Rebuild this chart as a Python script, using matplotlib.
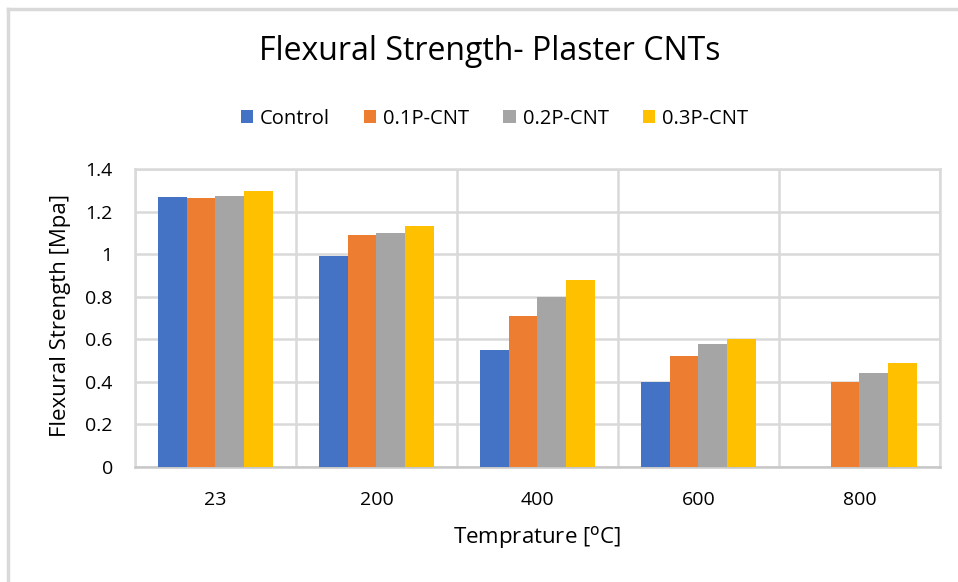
import numpy as np
import matplotlib.pyplot as plt
from matplotlib.lines import Line2D

plt.rcParams['font.family'] = ['Open Sans', 'DejaVu Sans']

temps = ['23', '200', '400', '600', '800']
control = [1.27, 0.99, 0.55, 0.40, 0.0]
p01_cnt = [1.265, 1.09, 0.71, 0.52, 0.40]
p02_cnt = [1.275, 1.10, 0.80, 0.58, 0.44]
p03_cnt = [1.295, 1.13, 0.88, 0.60, 0.49]

series = [
    ('Control', control, '#4472C4'),
    ('0.1P-CNT', p01_cnt, '#ED7D31'),
    ('0.2P-CNT', p02_cnt, '#A5A5A5'),
    ('0.3P-CNT', p03_cnt, '#FFC000'),
]

grid_col = '#d9d9d9'

fig = plt.figure(figsize=(9.58, 5.82), dpi=100)
ax = fig.add_axes([0.1409, 0.1976, 0.9812 - 0.1409, 0.7096 - 0.1976])

x = np.arange(len(temps))
w = 0.18
for k, (name, vals, col) in enumerate(series):
    ax.bar(x + (k - 1.5) * w, vals, width=w, color=col, label=name, zorder=3)

ax.set_xlim(-0.5, len(temps) - 0.5)
ax.set_ylim(0, 1.4)
ax.set_yticks(np.arange(0, 1.41, 0.2))
ax.set_yticklabels(['0', '0.2', '0.4', '0.6', '0.8', '1', '1.2', '1.4'])
ax.set_xticks(x)
ax.set_xticklabels(temps)
ax.set_xticks(np.arange(-0.5, len(temps), 1.0), minor=True)

# horizontal value gridlines + vertical category separators
ax.grid(axis='y', which='major', color=grid_col, lw=1.8, zorder=0)
ax.grid(axis='x', which='minor', color=grid_col, lw=1.8, zorder=0)
ax.grid(axis='x', which='major', visible=False)
for s in ax.spines.values():
    s.set_color(grid_col)
    s.set_linewidth(1.8)
ax.spines['bottom'].set_color('#c8c8c8')

ax.tick_params(which='both', length=0)
ax.tick_params(axis='y', labelsize=14, colors='#000000', pad=16)
ax.tick_params(axis='x', labelsize=14, colors='#000000', pad=17)

ax.set_ylabel('Flexural Strength [Mpa]', fontsize=16)
ax.yaxis.set_label_coords(-0.092, 0.51)
ax.set_xlabel('Temprature [$^{\\mathrm{o}}$C]', fontsize=16)
ax.xaxis.set_label_coords(0.4994, -0.238)
ax.xaxis.label.set_va('center')
ax.yaxis.label.set_va('center')

fig.text(0.511, 0.911, 'Flexural Strength- Plaster CNTs', ha='center', va='center',
         fontsize=23)

fig.legend(loc='center', bbox_to_anchor=(0.516, 0.796), ncol=4, frameon=False,
           fontsize=14.5, handlelength=0.6, handleheight=0.6, handletextpad=0.35,
           columnspacing=1.7)

# outer frame: top and left edges only
fig.add_artist(Line2D([8 / 958, 1.0], [1 - 9 / 582, 1 - 9 / 582], color=grid_col,
                      lw=2.5, transform=fig.transFigure))
fig.add_artist(Line2D([8 / 958, 8 / 958], [0, 1 - 9 / 582], color=grid_col,
                      lw=2.5, transform=fig.transFigure))

fig.savefig('out.png', dpi=100)
